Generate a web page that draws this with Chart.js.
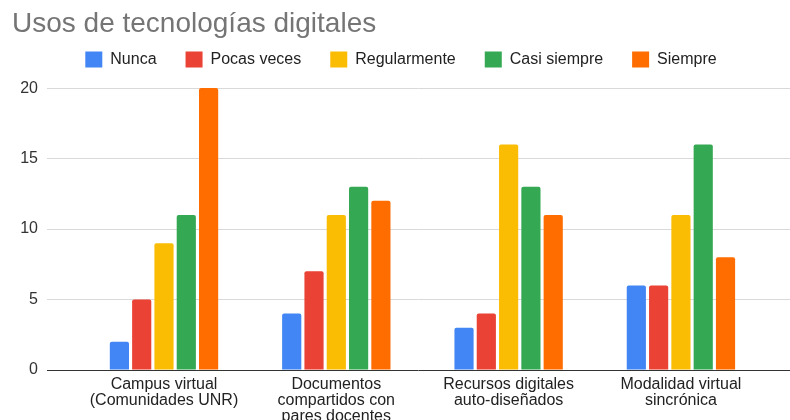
<!DOCTYPE html>
<html>
<head>
<meta charset="utf-8">
<script src="https://cdn.jsdelivr.net/npm/chart.js@4.4.0/dist/chart.umd.min.js"></script>
<style>
  html, body { margin: 0; padding: 0; background: #fff; }
  #wrap { width: 790px; height: 420px; position: relative; }
</style>
</head>
<body>
<div id="wrap"><canvas id="cv"></canvas></div>
<script>
const categories = [
  ['Campus virtual', '(Comunidades UNR)'],
  ['Documentos', 'compartidos con', 'pares docentes'],
  ['Recursos digitales', 'auto-diseñados'],
  ['Modalidad virtual', 'sincrónica']
];
const seriesNames = ['Nunca', 'Pocas veces', 'Regularmente', 'Casi siempre', 'Siempre'];
const nunca        = [2, 4, 3, 6];
const pocasVeces   = [5, 7, 4, 6];
const regularmente = [9, 11, 16, 11];
const casiSiempre  = [11, 13, 13, 16];
const siempre      = [20, 12, 11, 8];
const colors = ['#4285F4', '#EA4335', '#FBBC04', '#34A853', '#FF6D01'];
const yTicks = [0, 5, 10, 15, 20];

const FONT = '"Liberation Sans", Arial, sans-serif';
const allSeries = [nunca, pocasVeces, regularmente, casiSiempre, siempre];

const datasets = allSeries.map((vals, i) => ({
  label: seriesNames[i],
  data: vals.map((v, j) => ({ x: j, y: v })),
  backgroundColor: colors[i],
  borderWidth: 0,
  borderRadius: { topLeft: 2, topRight: 2 },
  borderSkipped: 'start',
  categoryPercentage: 0.647,
  barPercentage: 0.86
}));

// extra gap under the legend without moving its items
const legendGap = {
  id: 'legendGap',
  afterInit(chart) {
    const lg = chart.legend;
    if (!lg) return;
    const fit = lg.fit.bind(lg);
    lg.fit = function() { fit(); this.height += 10.5; };
  }
};

new Chart(document.getElementById('cv'), {
  type: 'bar',
  data: { datasets },
  plugins: [legendGap],
  options: {
    responsive: true,
    maintainAspectRatio: false,
    animation: false,
    layout: { padding: { left: 12, right: 0, top: 0, bottom: 0 } },
    plugins: {
      title: {
        display: true,
        text: 'Usos de tecnologías digitales',
        align: 'start',
        color: '#757575',
        font: { family: FONT, size: 28, weight: 'normal' },
        padding: { top: 7, bottom: -18 }
      },
      legend: {
        display: true,
        position: 'top',
        labels: {
          boxWidth: 17,
          boxHeight: 16,
          color: '#222',
          padding: 29,
          font: { family: FONT, size: 16 }
        }
      },
      tooltip: { enabled: false }
    },
    scales: {
      x: {
        type: 'linear',
        min: -0.679,
        max: 3.633,
        offset: false,
        grid: { display: false, drawTicks: false },
        border: { display: false },
        afterFit: (s) => { s.height = 50; },
        ticks: {
          stepSize: 1,
          includeBounds: false,
          autoSkip: false,
          maxRotation: 0,
          padding: 7,
          color: '#222',
          font: { family: FONT, size: 16, lineHeight: 1.0 },
          callback: (v) => (Number.isInteger(v) && categories[v]) ? categories[v] : ''
        }
      },
      y: {
        min: 0,
        max: 20,
        afterFit: (s) => { s.width = 35; },
        afterBuildTicks: (s) => { s.ticks = yTicks.map(v => ({ value: v })); },
        border: { display: false },
        grid: {
          drawTicks: false,
          color: (c) => c.tick && c.tick.value === 0 ? '#333' : '#d9d9d9',
          lineWidth: 1
        },
        ticks: {
          padding: 9,
          color: '#333',
          font: { family: FONT, size: 16 }
        }
      }
    }
  }
});
</script>
</body>
</html>
